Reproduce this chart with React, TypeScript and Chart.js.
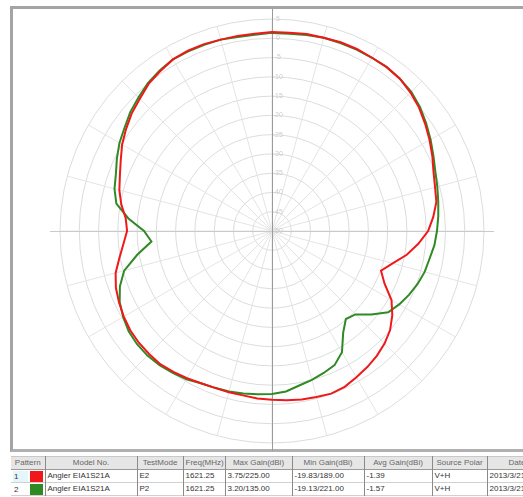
import React, { useEffect, useRef } from "react";
import { Chart, registerables } from "chart.js";

Chart.register(...registerables);

// Angles (degrees, clockwise from top)
const angleLabels = [
  "0", "5", "10", "15", "20", "25", "30", "35", "40", "45", "50", "55",
  "60", "65", "70", "75", "80", "85", "90", "95", "100", "105", "110", "115",
  "120", "125", "130", "135", "140", "145", "150", "155", "160", "165", "170", "175",
  "180", "185", "190", "195", "200", "205", "210", "215", "220", "225", "230", "235",
  "240", "245", "250", "255", "260", "265", "270", "275", "280", "285", "290", "295",
  "300", "305", "310", "315", "320", "325", "330", "335", "340", "345", "350", "355",
];

// Gain in dBi, series 1 (red)
const redGain = [
  1.6, 1.6, 1.9, 1.9, 2.1, 2.1, 1.9, 1.9, 1.6, 0.8, -0.2, -1.5,
  -2.8, -4.1, -5.4, -6.2, -6.7, -8.0, -9.5, -11.9, -14.5, -17.6, -19.9, -17.8,
  -14.2, -11.9, -10.0, -8.7, -7.7, -6.9, -6.2, -5.4, -5.1, -5.4, -5.6, -5.9,
  -6.2, -6.4, -6.7, -6.7, -6.7, -6.4, -5.9, -5.4, -4.9, -4.9, -4.9, -5.1,
  -5.6, -6.2, -6.9, -8.0, -9.8, -11.3, -12.4, -11.9, -10.3, -9.0, -8.0, -6.7,
  -5.1, -3.8, -2.5, -1.5, -0.2, 0.6, 1.4, 1.6, 1.6, 1.4, 1.4, 1.4,
];

// Gain in dBi, series 2 (green)
const greenGain = [
  1.4, 1.4, 1.6, 1.9, 1.9, 1.9, 1.9, 1.9, 1.6, 1.1, 0.1, -1.2,
  -2.5, -3.8, -4.9, -5.6, -6.2, -6.7, -7.2, -7.7, -8.5, -9.0, -9.8, -10.8,
  -11.9, -13.2, -16.3, -19.4, -20.2, -17.8, -13.7, -11.6, -10.8, -10.0, -9.3, -8.2,
  -7.7, -7.5, -7.2, -6.9, -6.7, -6.4, -5.6, -5.1, -4.6, -4.3, -4.3, -4.6,
  -5.4, -6.4, -8.0, -10.3, -14.5, -18.6, -16.8, -12.6, -9.0, -7.7, -6.9, -5.6,
  -4.3, -3.3, -2.0, -1.0, 0.1, 0.8, 1.4, 1.4, 1.4, 1.4, 1.1, 1.1,
];

const seriesColors = ["#f01818", "#2f8a24"];

// Table
const tableHeaders = [
  "Pattern", "Model No.", "TestMode", "Freq(MHz)", "Max Gain(dBi)",
  "Min Gain(dBi)", "Avg Gain(dBi)", "Source Polar", "Date",
];
const rowNumbers = ["1", "2"];
const modelNames = ["Angler EIA1S21A", "Angler EIA1S21A"];
const testModes = ["E2", "P2"];
const freqs = ["1621.25", "1621.25"];
const maxGains = ["3.75/225.00", "3.20/135.00"];
const minGains = ["-19.83/189.00", "-19.13/221.00"];
const avgGains = ["-1.39", "-1.57"];
const sourcePolars = ["V+H", "V+H"];
const dates = ["2013/3/21", "2013/3/21"];

const colWidths = [34, 92, 46, 42, 67, 72, 68, 55, 60];

const axisPlugin = {
  id: "axisCross",
  beforeDatasetsDraw(chart: any) {
    const s = chart.scales.r;
    const ctx = chart.ctx;
    ctx.save();
    ctx.lineWidth = 1;
    ctx.strokeStyle = "#cacaca";
    ctx.beginPath();
    ctx.moveTo(s.xCenter - s.drawingArea - 10, s.yCenter + 0.5);
    ctx.lineTo(s.xCenter + s.drawingArea + 10, s.yCenter + 0.5);
    ctx.stroke();
    ctx.strokeStyle = "#9a9a9a";
    ctx.beginPath();
    ctx.moveTo(s.xCenter + 0.5, 0);
    ctx.lineTo(s.xCenter + 0.5, chart.height);
    ctx.stroke();
    ctx.restore();
  },
};

function PolarChart() {
  const ref = useRef<HTMLCanvasElement | null>(null);
  useEffect(() => {
    if (!ref.current) return;
    const chart = new Chart(ref.current, {
      type: "radar",
      data: {
        labels: angleLabels,
        datasets: [
          {
            label: "1",
            data: redGain,
            borderColor: seriesColors[0],
            borderWidth: 2,
            pointRadius: 0,
            fill: false,
            tension: 0,
          },
          {
            label: "2",
            data: greenGain,
            borderColor: seriesColors[1],
            borderWidth: 2,
            pointRadius: 0,
            fill: false,
            tension: 0,
          },
        ],
      },
      options: {
        animation: false,
        responsive: true,
        maintainAspectRatio: false,
        layout: { padding: { left: 43.5, right: 35.5, top: 6.5, bottom: 4.5 } },
        plugins: { legend: { display: false }, tooltip: { enabled: false } },
        scales: {
          r: {
            min: -50,
            max: 5,
            ticks: {
              stepSize: 5,
              showLabelBackdrop: false,
              backdropPadding: 0,
              color: "#cccccc",
              font: { size: 7, family: "Liberation Sans" },
              callback: (v: any) => "      " + v,
            },
            grid: { circular: true, color: "#dcdcdc", lineWidth: 1 },
            angleLines: {
              display: true,
              color: (c: any) => (c.index % 3 === 0 ? "#e4e4e4" : "rgba(0,0,0,0)"),
              lineWidth: (c: any) => (c.index % 3 === 0 ? 1 : 0),
            },
            pointLabels: { display: false },
          },
        },
      } as any,
      plugins: [axisPlugin],
    });
    return () => chart.destroy();
  }, []);
  return <canvas ref={ref} />;
}

export default function App() {
  const cell: React.CSSProperties = {
    borderRight: "1px solid #8a8a8a",
    padding: "0 2px",
    whiteSpace: "nowrap",
    overflow: "hidden",
    height: 12,
    lineHeight: "12px",
  };
  const rows = rowNumbers.map((n, i) => [
    n,
    modelNames[i],
    testModes[i],
    freqs[i],
    maxGains[i],
    minGains[i],
    avgGains[i],
    sourcePolars[i],
    dates[i],
  ]);
  return (
    <div
      style={{
        position: "fixed",
        left: 0,
        top: 0,
        width: 523,
        height: 497,
        overflow: "hidden",
        background: "#ffffff",
        fontFamily: "Liberation Sans, Arial, sans-serif",
      }}
    >
      <div
        style={{
          position: "absolute",
          left: 10,
          top: 6,
          width: 540,
          height: 446,
          borderTop: "3px solid #a4a4a4",
          borderLeft: "3px solid #a4a4a4",
          borderBottom: "3px solid #b0b0b0",
          boxSizing: "border-box",
        }}
      />
      <div style={{ position: "absolute", left: 13, top: 9, width: 510, height: 442 }}>
        <PolarChart />
      </div>
      <table
        style={{
          position: "absolute",
          left: 11,
          top: 456,
          borderCollapse: "collapse",
          tableLayout: "fixed",
          width: colWidths.reduce((a, b) => a + b, 0),
          fontSize: 8,
          color: "#333",
        }}
      >
        <colgroup>
          {colWidths.map((w, i) => (
            <col key={i} style={{ width: w }} />
          ))}
        </colgroup>
        <thead>
          <tr style={{ background: "#e6e6e6", borderTop: "1px solid #c8c8c8", borderBottom: "1px solid #9a9a9a" }}>
            {tableHeaders.map((h, i) => (
              <th key={i} style={{ ...cell, fontWeight: "normal", color: "#666", textAlign: "center" }}>
                {h}
              </th>
            ))}
          </tr>
        </thead>
        <tbody>
          {rows.map((r, ri) => (
            <tr key={ri} style={{ borderBottom: "1px solid #d0d0d0" }}>
              {r.map((v, ci) => (
                <td key={ci} style={{ ...cell, textAlign: "left" }}>
                  {ci === 0 ? (
                    <div style={{ display: "flex", alignItems: "center", height: 12 }}>
                      <span
                        style={{
                          width: 15,
                          background: ri === 0 ? "#e4f6fa" : "transparent",
                          height: 11,
                          lineHeight: "11px",
                          paddingLeft: 1,
                        }}
                      >
                        {v}
                      </span>
                      <span
                        style={{
                          width: 13,
                          height: 11,
                          marginLeft: 2,
                          background: seriesColors[ri],
                        }}
                      />
                    </div>
                  ) : (
                    v
                  )}
                </td>
              ))}
            </tr>
          ))}
        </tbody>
      </table>
    </div>
  );
}
